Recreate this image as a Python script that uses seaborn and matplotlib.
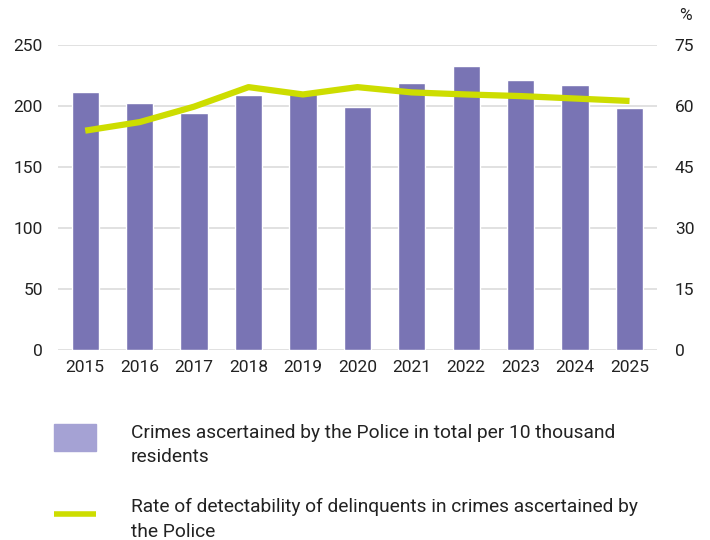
import matplotlib
matplotlib.use('Agg')
from matplotlib import pyplot as plt
from matplotlib.patches import Rectangle
from matplotlib.lines import Line2D
import pandas as pd
import seaborn as sns

years = ['2015', '2016', '2017', '2018', '2019', '2020', '2021', '2022', '2023', '2024', '2025']
crimes = [211, 202, 194, 209, 210, 199, 219, 233, 221, 217, 198]
detect_rate = [53.9, 56.0, 59.8, 64.6, 62.8, 64.6, 63.3, 62.8, 62.4, 61.8, 61.2]

left_ticks = [0, 50, 100, 150, 200, 250]
right_ticks = [0, 15, 30, 45, 60, 75]

bar_label = 'Crimes ascertained by the Police in total per 10 thousand\nresidents'
line_label = 'Rate of detectability of delinquents in crimes ascertained by\nthe Police'

BAR = '#7974b4'
BAR_LEG = '#a5a2d4'
LINE = '#cddd00'
GRID = '#dcdcdc'
TXT = '#222222'


def plot():
    sns.set_style('white')
    plt.rcParams['font.family'] = ['Roboto', 'DejaVu Sans']
    plt.rcParams['font.size'] = 12.5

    df = pd.DataFrame({'Year': years, 'Crimes': crimes, 'Rate': detect_rate})

    fig = plt.figure(figsize=(7.1, 5.4), dpi=100)
    ax = fig.add_axes([0.0817, 0.352, 0.8433, 0.565])
    sns.barplot(data=df, x='Year', y='Crimes', color=BAR, width=0.5,
                saturation=1, ax=ax, zorder=2)
    ax.set_ylim(0, 250)
    ax.set_yticks(left_ticks)
    ax.set_xlim(-0.5, len(years) - 0.5)
    ax.grid(axis='y', color=GRID, lw=1.2, zorder=0)
    ax.set_axisbelow(True)
    ax.set_xlabel('')
    ax.set_ylabel('')
    for s in ax.spines.values():
        s.set_visible(False)
    ax.tick_params(axis='both', length=0, labelsize=12.5, colors=TXT)
    ax.tick_params(axis='y', pad=11)
    ax.tick_params(axis='x', pad=7)

    ax2 = ax.twinx()
    sns.lineplot(data=df, x='Year', y='Rate', color=LINE, lw=4.5, ax=ax2,
                 sort=False, solid_capstyle='butt')
    ax2.set_ylim(0, 75)
    ax2.set_yticks(right_ticks)
    ax2.set_ylabel('')
    for s in ax2.spines.values():
        s.set_visible(False)
    ax2.tick_params(axis='y', length=0, labelsize=12.5, colors=TXT, pad=13)
    ax2.grid(False)
    fig.text(0.965, 0.972, '%', fontsize=12.5, color=TXT, ha='center', va='center')

    # legend drawn below the chart
    fig.add_artist(Rectangle((54 / 710, 1 - 451 / 540), 42 / 710, 27 / 540,
                             transform=fig.transFigure, color=BAR_LEG))
    fig.text(131 / 710, 1 - 445 / 540, bar_label, fontsize=13.8, color=TXT,
             va='center', linespacing=1.45)
    fig.add_artist(Line2D([54 / 710, 96 / 710], [1 - 514 / 540] * 2,
                          transform=fig.transFigure, color=LINE, lw=4,
                          solid_capstyle='butt'))
    fig.text(131 / 710, 1 - 519.5 / 540, line_label, fontsize=13.8, color=TXT,
             va='center', linespacing=1.45)

    plt.savefig('out.png', dpi=100)


def main():
    plot()


if __name__ == '__main__':
    main()
